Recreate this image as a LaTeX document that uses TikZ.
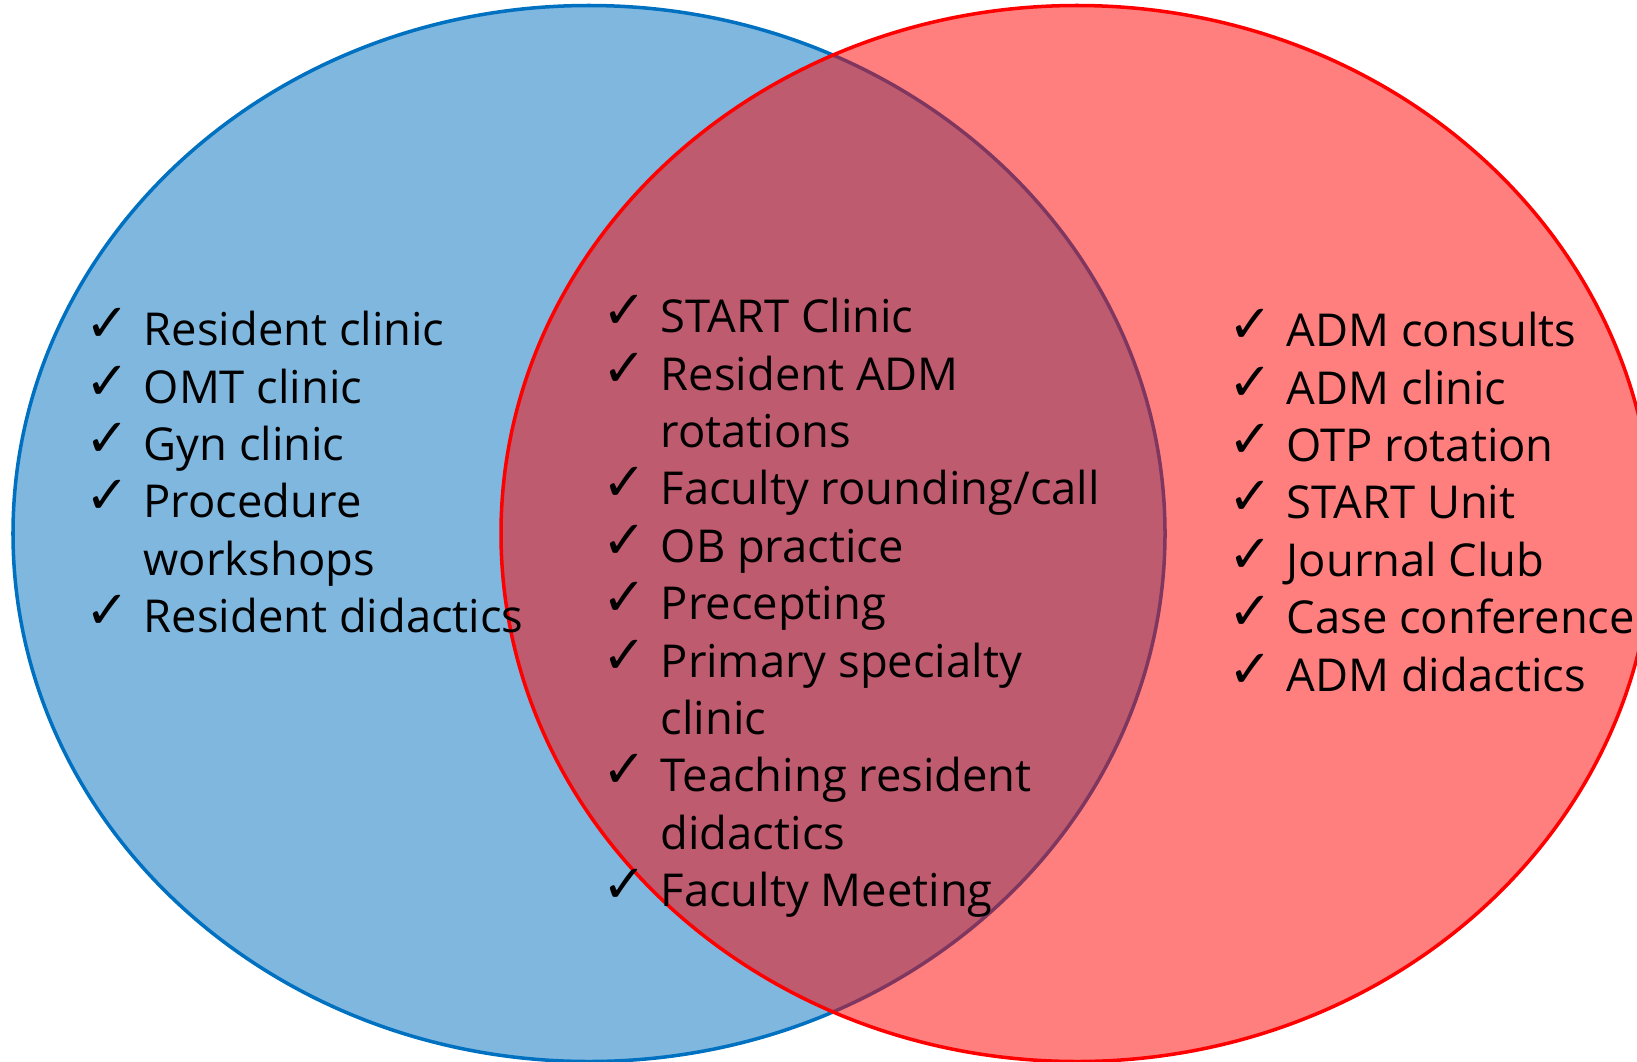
\documentclass[tikz,border=0pt]{standalone}
\usepackage{fontspec}
\setmainfont{Open Sans}
\newfontfamily\checkfont{DejaVu Sans}[BoldFont={DejaVu Sans Bold}]
\definecolor{ringblue}{HTML}{0070C0}
\definecolor{ringred}{HTML}{FF0000}
\newcommand{\ck}{\makebox[0.58cm][l]{\raisebox{0.04cm}{\checkfont\bfseries\fontsize{15pt}{15pt}\selectfont ✓}}}
\tikzset{
  ring/.style={line width=1pt, draw=#1, fill=#1, fill opacity=0.5},
  checklist/.style={anchor=base west, inner sep=0pt, font=\fontsize{12.9pt}{0.574cm}\selectfont}
}
\begin{document}
\begin{tikzpicture}
\useasboundingbox (0,0) rectangle (16.37,10.61);
% the two sets
\draw[ring=ringblue] (5.89,5.275) ellipse (5.76 and 5.28);
\draw[ring=ringred] (10.77,5.275) ellipse (5.76 and 5.28);
% lists
\node[checklist] (resident) at (0.85,7.153) {\begin{tabular}[t]{@{}l@{}l@{}}
\ck & Resident clinic\\
\ck & OMT clinic\\
\ck & Gyn clinic\\
\ck & Procedure\\
    & workshops\\
\ck & Resident didactics
\end{tabular}};
\node[checklist] (shared) at (6.02,7.283) {\begin{tabular}[t]{@{}l@{}l@{}}
\ck & START Clinic\\
\ck & Resident ADM\\
    & rotations\\
\ck & Faculty rounding/call\\
\ck & OB practice\\
\ck & Precepting\\
\ck & Primary specialty\\
    & clinic\\
\ck & Teaching resident\\
    & didactics\\
\ck & Faculty Meeting
\end{tabular}};
\node[checklist] (adm) at (12.28,7.143) {\begin{tabular}[t]{@{}l@{}l@{}}
\ck & ADM consults\\
\ck & ADM clinic\\
\ck & OTP rotation\\
\ck & START Unit\\
\ck & Journal Club\\
\ck & Case conference\\
\ck & ADM didactics
\end{tabular}};
\end{tikzpicture}
\end{document}
